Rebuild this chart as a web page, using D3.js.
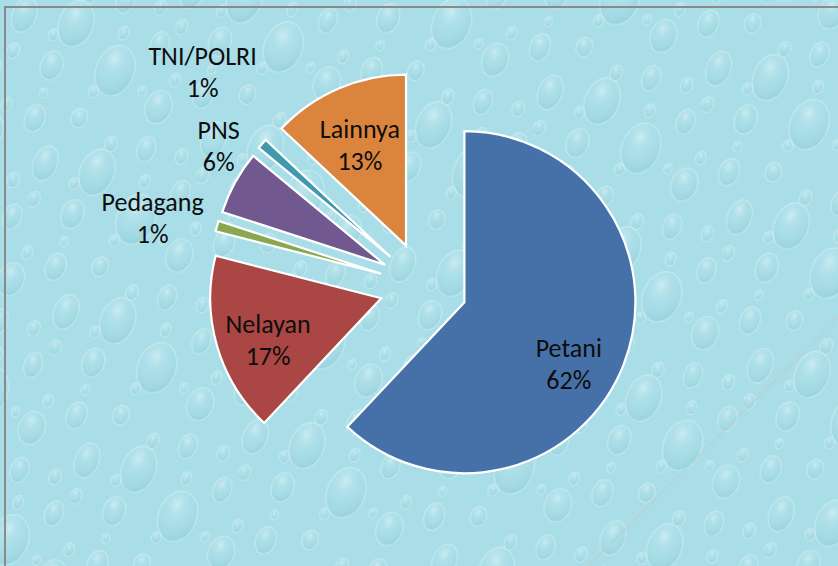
<!DOCTYPE html>
<html>
<head>
<meta charset="utf-8">
<script src="https://cdn.jsdelivr.net/npm/d3@7"></script>
<style>
  html, body { margin: 0; padding: 0; background: #ffffff; }
  svg { display: block; }
  .lbl { font-family: Carlito, Lato, "Open Sans", sans-serif; font-size: 26px; fill: #0d0d0d; }
</style>
</head>
<body>
<div id="chart"></div>
<script>
// data
var categories = ["Petani", "Nelayan", "Pedagang", "PNS", "TNI/POLRI", "Lainnya"];
var values = [62, 17, 1, 6, 1, 13];
var percentLabels = ["62%", "17%", "1%", "6%", "1%", "13%"];

// styles / layout
var colors = ["#4571a8", "#aa4643", "#8aa64f", "#71588f", "#4198af", "#db843d"];
// label placement: angle shift (deg) from slice mid-angle, distance from the slice tip
var labelLayout = [[9.6, 122], [-4.6, 121], [-2.8, 235], [6.6, 204], [3.0, 263], [-1.4, 110]];

var W = 838, H = 566;
var cx = 423.5, cy = 286, radius = 171, explode = 44;

var svg = d3.select("#chart").append("svg")
    .attr("width", W)
    .attr("height", H);

var defs = svg.append("defs");

// water drop texture (kept soft)
var dropGrad = defs.append("radialGradient")
    .attr("id", "drop")
    .attr("cx", "38%").attr("cy", "30%").attr("r", "70%");
dropGrad.append("stop").attr("offset", "0%").attr("stop-color", "#e6f8fa").attr("stop-opacity", 0.55);
dropGrad.append("stop").attr("offset", "50%").attr("stop-color", "#b0e2ea").attr("stop-opacity", 0.15);
dropGrad.append("stop").attr("offset", "100%").attr("stop-color", "#7cc2d0").attr("stop-opacity", 0.35);

var pat = defs.append("pattern")
    .attr("id", "water")
    .attr("patternUnits", "userSpaceOnUse")
    .attr("patternTransform", "rotate(-8)")
    .attr("width", 170).attr("height", 150);
pat.append("rect").attr("width", 170).attr("height", 150).attr("fill", "#a9dde7");
var drops = [[22, 18, 12, 18], [72, 34, 17, 24], [124, 18, 9, 13], [42, 72, 11, 15], [104, 86, 19, 26],
             [152, 66, 9, 13], [18, 122, 10, 14], [62, 128, 8, 10], [142, 128, 13, 17], [90, 8, 6, 8],
             [6, 52, 6, 8], [118, 50, 5, 7], [48, 42, 5, 6], [162, 104, 5, 7], [30, 98, 4, 5],
             [80, 104, 5, 6], [128, 110, 4, 5], [158, 30, 6, 8]];
pat.selectAll("ellipse").data(drops).enter().append("ellipse")
    .attr("cx", function(d) { return d[0]; })
    .attr("cy", function(d) { return d[1]; })
    .attr("rx", function(d) { return d[2]; })
    .attr("ry", function(d) { return d[3]; })
    .attr("transform", function(d) { return "rotate(30," + d[0] + "," + d[1] + ")"; })
    .attr("fill", "url(#drop)")
    .attr("stroke", "#e2f6f9")
    .attr("stroke-opacity", 0.45)
    .attr("stroke-width", 1.3);

svg.append("rect")
    .attr("width", W).attr("height", H)
    .attr("fill", "url(#water)");

// faint diagonal seam in the lower right
svg.append("line")
    .attr("x1", 838).attr("y1", 318)
    .attr("x2", 588).attr("y2", 566)
    .attr("stroke", "#bccfd2")
    .attr("stroke-width", 1.2);

// frame
svg.append("path")
    .attr("d", "M5," + H + "V7H" + W)
    .attr("fill", "none")
    .attr("stroke", "#8a8a8a")
    .attr("stroke-width", 2);

var pie = d3.pie().sort(null).value(function(d) { return d; });
var arcs = pie(values);

var arc = d3.arc().innerRadius(0).outerRadius(radius);

function midAngle(d) { return (d.startAngle + d.endAngle) / 2; }
function tip(d) {
    var a = midAngle(d);
    return [cx + explode * Math.sin(a), cy - explode * Math.cos(a)];
}

var g = svg.append("g");

g.selectAll("path.slice")
    .data(arcs)
    .enter()
    .append("path")
    .attr("class", "slice")
    .attr("transform", function(d) { var t = tip(d); return "translate(" + t[0] + "," + t[1] + ")"; })
    .attr("d", arc)
    .attr("fill", function(d, i) { return colors[i]; })
    .attr("stroke", "#ffffff")
    .attr("stroke-width", 2.2)
    .attr("stroke-linejoin", "miter");

// labels
var labels = svg.selectAll("text.lbl")
    .data(arcs)
    .enter()
    .append("text")
    .attr("class", "lbl")
    .attr("text-anchor", "middle")
    .attr("transform", function(d, i) {
        var t = tip(d);
        var a = midAngle(d) + labelLayout[i][0] * Math.PI / 180;
        var r = labelLayout[i][1];
        return "translate(" + (t[0] + r * Math.sin(a)) + "," + (t[1] - r * Math.cos(a)) + ")";
    });

labels.append("tspan")
    .attr("x", 0).attr("y", -8)
    .text(function(d, i) { return categories[i]; });

labels.append("tspan")
    .attr("x", 0).attr("y", 24)
    .text(function(d, i) { return percentLabels[i]; });
</script>
</body>
</html>
